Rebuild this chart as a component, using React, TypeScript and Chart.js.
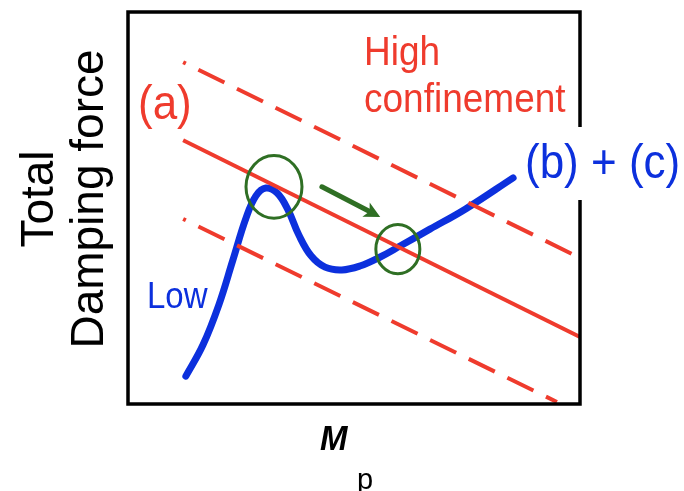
import React, { useEffect, useRef } from "react";
import { Chart, registerables } from "chart.js";

Chart.register(...registerables);

// Damping force curve (blue), in axis units (0–10 on both axes)
const dampingX = [1.28, 1.66, 2.01, 2.32, 2.61, 2.83, 3.05, 3.30, 3.54, 3.78, 4.05, 4.36, 4.73, 5.13, 5.58, 6.02, 6.68, 7.46, 8.52];
const dampingY = [0.71, 1.51, 2.53, 3.67, 4.74, 5.31, 5.51, 5.38, 4.95, 4.31, 3.78, 3.49, 3.42, 3.52, 3.75, 4.03, 4.46, 4.97, 5.77];

// Confinement line (a) and its two dashed bounds
const confinementX = [1.22, 10.0];
const confinementY = [6.73, 1.71];
const upperBoundX = [1.22, 9.82];
const upperBoundY = [8.72, 3.83];
const lowerBoundX = [1.22, 9.49];
const lowerBoundY = [4.72, 0.05];

// Crossing points circled in green, and the arrow between them
const crossingX = [3.23, 5.97];
const crossingY = [5.54, 3.95];
const arrowX = [4.29, 5.58];
const arrowY = [5.54, 4.77];

const RED = "#ef3b2d";
const BLUE = "#0c30dd";
const GREEN = "#2f6f24";
const FONT = "'Liberation Sans', Arial, Helvetica, sans-serif";

const toPoints = (xs: number[], ys: number[]) => xs.map((x, i) => ({ x, y: ys[i] }));

function drawLabel(
  ctx: CanvasRenderingContext2D,
  text: string,
  x: number,
  y: number,
  font: string,
  color: string,
  stretch = 1.1,
  align: CanvasTextAlign = "left",
  rotate = 0
) {
  ctx.save();
  ctx.translate(x, y);
  ctx.scale(1, stretch);
  if (rotate) ctx.rotate(rotate);
  ctx.font = font;
  ctx.fillStyle = color;
  ctx.textAlign = align;
  ctx.textBaseline = "alphabetic";
  ctx.fillText(text, 0, 0);
  ctx.restore();
}

const decorations = {
  id: "decorations",
  afterDraw(chart: any) {
    const { ctx, chartArea, scales } = chart;
    const sx = scales.x;
    const sy = scales.y;

    // frame
    ctx.save();
    ctx.strokeStyle = "#000";
    ctx.lineWidth = 3.5;
    ctx.strokeRect(chartArea.left, chartArea.top, chartArea.right - chartArea.left, chartArea.bottom - chartArea.top);
    ctx.restore();

    // green circles at the crossings
    const radii = [28, 22];
    ctx.save();
    ctx.strokeStyle = GREEN;
    ctx.lineWidth = 3;
    crossingX.forEach((cx, i) => {
      const px = sx.getPixelForValue(cx);
      const py = sy.getPixelForValue(crossingY[i]);
      ctx.beginPath();
      ctx.ellipse(px, py, radii[i], radii[i] * 1.12, 0, 0, Math.PI * 2);
      ctx.stroke();
    });

    // arrow
    const x0 = sx.getPixelForValue(arrowX[0]);
    const y0 = sy.getPixelForValue(arrowY[0]);
    const x1 = sx.getPixelForValue(arrowX[1]);
    const y1 = sy.getPixelForValue(arrowY[1]);
    const len = Math.hypot(x1 - x0, y1 - y0);
    const ux = (x1 - x0) / len;
    const uy = (y1 - y0) / len;
    const head = 16;
    const bx = x1 - ux * head;
    const by = y1 - uy * head;
    ctx.strokeStyle = GREEN;
    ctx.fillStyle = GREEN;
    ctx.lineWidth = 5;
    ctx.lineCap = "round";
    ctx.beginPath();
    ctx.moveTo(x0, y0);
    ctx.lineTo(bx + ux * 3, by + uy * 3);
    ctx.stroke();
    ctx.beginPath();
    ctx.moveTo(x1, y1);
    ctx.lineTo(bx - uy * 8, by + ux * 8);
    ctx.lineTo(bx + ux * 4, by + uy * 4);
    ctx.lineTo(bx + uy * 8, by - ux * 8);
    ctx.closePath();
    ctx.fill();
    ctx.restore();

    // labels inside and around the frame
    drawLabel(ctx, "High", 364, 65, `37px ${FONT}`, RED);
    drawLabel(ctx, "confinement", 364, 112, `37px ${FONT}`, RED);
    drawLabel(ctx, "(a)", 138, 119, `44px ${FONT}`, RED);
    drawLabel(ctx, "Low", 147, 308, `33px ${FONT}`, BLUE, 1.12);

    ctx.save();
    ctx.fillStyle = "#ffffff";
    ctx.fillRect(519, 127, 165, 73);
    ctx.restore();
    drawLabel(ctx, "(b) + (c)", 525, 178, `44px ${FONT}`, BLUE);

    // axis titles
    drawLabel(ctx, "Total", 53, 199, `46px ${FONT}`, "#000", 1, "center", -Math.PI / 2);
    drawLabel(ctx, "Damping force", 103, 199, `46px ${FONT}`, "#000", 1, "center", -Math.PI / 2);
    drawLabel(ctx, "M", 320, 450, `italic bold 33px ${FONT}`, "#000", 1.04);
    drawLabel(ctx, "p", 357, 489, `29px ${FONT}`, "#000", 1.0);
  },
};

export default function App() {
  const canvasRef = useRef<HTMLCanvasElement | null>(null);

  useEffect(() => {
    if (!canvasRef.current) return;
    const dashed = {
      borderColor: RED,
      borderWidth: 4,
      borderDash: [29, 14],
      borderDashOffset: 26,
      borderCapStyle: "butt" as const,
      pointRadius: 0,
      tension: 0,
    };
    const chart = new Chart(canvasRef.current, {
      type: "line",
      data: {
        datasets: [
          { label: "upper", data: toPoints(upperBoundX, upperBoundY), ...dashed },
          { label: "lower", data: toPoints(lowerBoundX, lowerBoundY), ...dashed },
          {
            label: "(a)",
            data: toPoints(confinementX, confinementY),
            borderColor: RED,
            borderWidth: 4,
            pointRadius: 0,
            tension: 0,
          },
          {
            label: "(b) + (c)",
            data: toPoints(dampingX, dampingY),
            borderColor: BLUE,
            borderWidth: 7,
            borderCapStyle: "round",
            borderJoinStyle: "round",
            pointRadius: 0,
            tension: 0.4,
          },
        ],
      },
      options: {
        responsive: false,
        animation: false,
        layout: { padding: { left: 128, right: 104, top: 12, bottom: 87 } },
        plugins: { legend: { display: false }, tooltip: { enabled: false } },
        scales: {
          x: { type: "linear", min: 0, max: 10, display: false },
          y: { type: "linear", min: 0, max: 10, display: false },
        },
      },
      plugins: [decorations],
    });
    return () => chart.destroy();
  }, []);

  return (
    <div style={{ position: "absolute", left: 0, top: 0, width: 684, height: 491, background: "#fff" }}>
      <canvas ref={canvasRef} width={684} height={491} />
    </div>
  );
}
